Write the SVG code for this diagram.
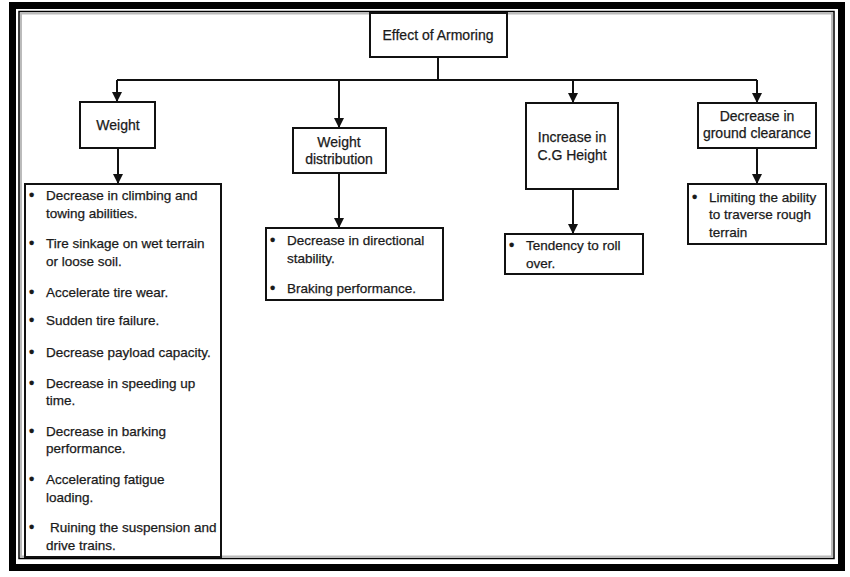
<svg xmlns="http://www.w3.org/2000/svg" width="850" height="577" viewBox="0 0 850 577">
<style>
text{font-family:"Liberation Sans",Arial,sans-serif;font-size:13.5px;fill:#1a1a1a;stroke:#1a1a1a;stroke-width:0.25}
.c{text-anchor:middle}
.h{font-size:14px}
.b{font-size:15px;font-weight:bold}
.box{fill:#fff;stroke:#111;stroke-width:2}
.ln{fill:none;stroke:#111;stroke-width:2}
</style>
<defs>
<marker id="ah" viewBox="0 0 10 10" refX="10" refY="5" markerWidth="10" markerHeight="10" markerUnits="userSpaceOnUse" orient="auto">
<path d="M0,0 L10,5 L0,10 Z" fill="#111"/>
</marker>
</defs>
<rect x="0" y="0" width="850" height="577" fill="#fff"/>
<g id="frame">
<rect x="12.5" y="5.5" width="829" height="562" fill="none" stroke="#000" stroke-width="7"/>
<rect x="19" y="11.5" width="815" height="547" fill="none" stroke="#000" stroke-width="1.5"/>
<rect x="21" y="13.5" width="811" height="543" fill="none" stroke="#bbb" stroke-width="2"/>
</g>
<g id="connectors">
<path class="ln" d="M438,57 V80"/>
<path class="ln" d="M117,80 H757"/>
<path class="ln" d="M117,80 V102" marker-end="url(#ah)"/>
<path class="ln" d="M339,80 V128" marker-end="url(#ah)"/>
<path class="ln" d="M573,80 V103" marker-end="url(#ah)"/>
<path class="ln" d="M757,80 V103" marker-end="url(#ah)"/>
<path class="ln" d="M118,148 V184" marker-end="url(#ah)"/>
<path class="ln" d="M339,173 V228" marker-end="url(#ah)"/>
<path class="ln" d="M573,189 V234" marker-end="url(#ah)"/>
<path class="ln" d="M757,148 V184" marker-end="url(#ah)"/>
</g>
<g id="root">
<rect class="box" x="370" y="13" width="137" height="44"/>
<text class="c h" x="438" y="40">Effect of Armoring</text>
</g>
<g id="weight">
<rect class="box" x="80" y="102" width="75" height="46"/>
<text class="c h" x="118" y="130">Weight</text>
</g>
<g id="weight-effects">
<rect class="box" x="25" y="184" width="196" height="373"/>
<g>
<text class="b" x="29" y="200">•</text><text x="46" y="200">Decrease in climbing and</text><text x="46" y="218">towing abilities.</text>
<text class="b" x="29" y="248">•</text><text x="46" y="248">Tire sinkage on wet terrain</text><text x="46" y="266">or loose soil.</text>
<text class="b" x="29" y="297">•</text><text x="46" y="297">Accelerate tire wear.</text>
<text class="b" x="29" y="325">•</text><text x="46" y="325">Sudden tire failure.</text>
<text class="b" x="29" y="357">•</text><text x="46" y="357">Decrease  payload capacity.</text>
<text class="b" x="29" y="388">•</text><text x="46" y="388">Decrease in speeding up</text><text x="46" y="405">time.</text>
<text class="b" x="29" y="436">•</text><text x="46" y="436">Decrease in barking</text><text x="46" y="453">performance.</text>
<text class="b" x="29" y="484">•</text><text x="46" y="484">Accelerating fatigue</text><text x="46" y="502">loading.</text>
<text class="b" x="29" y="532">•</text><text x="50" y="532">Ruining the suspension and</text><text x="46" y="550">drive trains.</text>
</g>
</g>
<g id="weight-distribution">
<rect class="box" x="293" y="128" width="93" height="45"/>
<text class="c h" x="339" y="147">Weight</text>
<text class="c h" x="339" y="164">distribution</text>
</g>
<g id="wd-effects">
<rect class="box" x="266" y="228" width="177" height="72"/>
<text class="b" x="270" y="245">•</text><text x="287" y="245">Decrease in directional</text><text x="287" y="263">stability.</text>
<text class="b" x="270" y="293">•</text><text x="287" y="293">Braking performance.</text>
</g>
<g id="cg-height">
<rect class="box" x="526" y="103" width="92" height="86"/>
<text class="c h" x="572" y="142">Increase in</text>
<text class="c h" x="572" y="160">C.G Height</text>
</g>
<g id="cg-effects">
<rect class="box" x="505" y="234" width="138" height="40"/>
<text class="b" x="509" y="250">•</text><text x="526" y="250">Tendency to roll</text><text x="526" y="268">over.</text>
</g>
<g id="ground-clearance">
<rect class="box" x="698" y="103" width="118" height="45"/>
<text class="c h" x="757" y="121">Decrease in</text>
<text class="c h" x="757" y="138">ground clearance</text>
</g>
<g id="gc-effects">
<rect class="box" x="688" y="184" width="138" height="60"/>
<text class="b" x="692" y="202">•</text><text x="709" y="202">Limiting the ability</text><text x="709" y="219">to traverse rough</text><text x="709" y="237">terrain</text>
</g>
</svg>
